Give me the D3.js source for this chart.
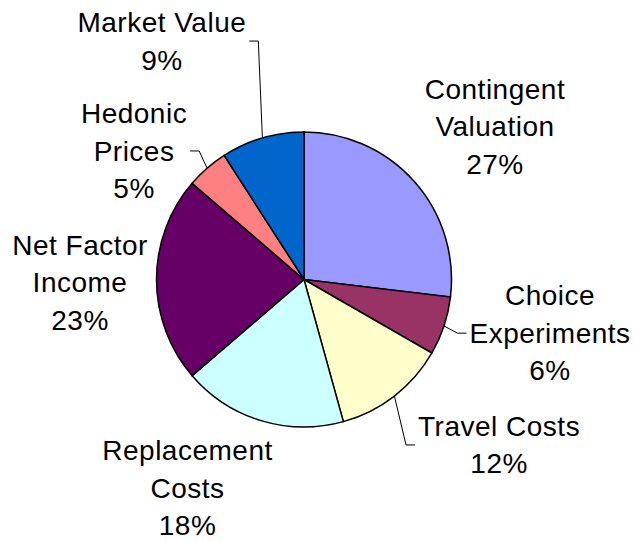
<!DOCTYPE html>
<meta charset="utf-8">
<head>
<style>
 body { margin: 0; background: #fff; }
 .labels text {
   font-family: "Liberation Sans", Arial, sans-serif;
   font-size: 28px;
   letter-spacing: 0.5px;
   fill: #000;
 }
 .slices path { stroke: #000; stroke-width: 1.5px; }
 .leaders polyline { fill: none; stroke: #000; stroke-width: 1px; }
</style>
</head>
<body>
<svg width="634" height="541"></svg>
<script src="https://cdnjs.cloudflare.com/ajax/libs/d3/7.8.5/d3.min.js"></script>
<script>
  // data, clockwise from 12 o'clock
  var categories = ['Contingent Valuation', 'Choice Experiments', 'Travel Costs',
                    'Replacement Costs', 'Net Factor Income', 'Hedonic Prices', 'Market Value'];
  var labelLines = [['Contingent', 'Valuation'], ['Choice', 'Experiments'], ['Travel Costs'],
                    ['Replacement', 'Costs'], ['Net Factor', 'Income'], ['Hedonic', 'Prices'], ['Market Value']];
  var shares = [26.9, 6.4, 12.4, 18.0, 22.6, 4.6, 9.1];
  var colors = ['#9999FF', '#993366', '#FFFFCC', '#CCFFFF', '#660066', '#FF8080', '#0066CC'];

  // label placement: [angle in degrees from top, distance from centre], leader on/off
  var labelPolar = [[51.3, 244.7], [102.3, 251.8], [130.3, 255.8], [209.2, 238.8],
                    [269.2, 224], [307.1, 213.1], [329.2, 277.6]];
  var leaders = [false, true, true, false, false, true, true];

  var svg = d3.select('svg');
  var cx = 304, cy = 279.5, radius = 147.5, lineH = 37.5;

  var pie = d3.pie().sort(null).value(function(d) { return d; });
  var arc = d3.arc().innerRadius(0).outerRadius(radius);
  var arcs = pie(shares);

  var g = svg.append('g').attr('transform', 'translate(' + cx + ',' + cy + ')');

  g.append('g').attr('class', 'slices')
    .selectAll('path')
    .data(arcs)
    .enter().append('path')
      .attr('d', arc)
      .attr('fill', function(d, i) { return colors[i]; });

  function polar(angDeg, r) {
    var a = angDeg * Math.PI / 180;
    return [Math.sin(a) * r, -Math.cos(a) * r];
  }

  var labels = g.append('g').attr('class', 'labels');
  var leaderG = g.append('g').attr('class', 'leaders');

  arcs.forEach(function(d, i) {
    var pos = polar(labelPolar[i][0], labelPolar[i][1]);
    var lines = labelLines[i].concat([Math.round(shares[i]) + '%']);
    var top = pos[1] - (lines.length - 1) * lineH / 2;
    var t = labels.append('text')
      .attr('text-anchor', 'middle');
    lines.forEach(function(s, k) {
      t.append('tspan')
        .attr('x', pos[0])
        .attr('y', top + k * lineH)
        .attr('dy', '0.35em')
        .text(s);
    });
    if (!leaders[i]) return;
    var w = d3.max(t.selectAll('tspan').nodes(), function(n) { return n.getComputedTextLength(); });
    var mid = (d.startAngle + d.endAngle) / 2 * 180 / Math.PI;
    var edge = polar(mid, radius);
    var side = pos[0] > edge[0] ? -1 : 1;   // box edge facing the pie
    var bx = pos[0] + side * (w / 2 + 3);
    var elbow = [bx + side * 9, pos[1]];
    leaderG.append('polyline')
      .attr('points', [edge, elbow, [bx, pos[1]]].map(function(p) { return p.join(','); }).join(' '));
  });
</script>
</body>
</html>
